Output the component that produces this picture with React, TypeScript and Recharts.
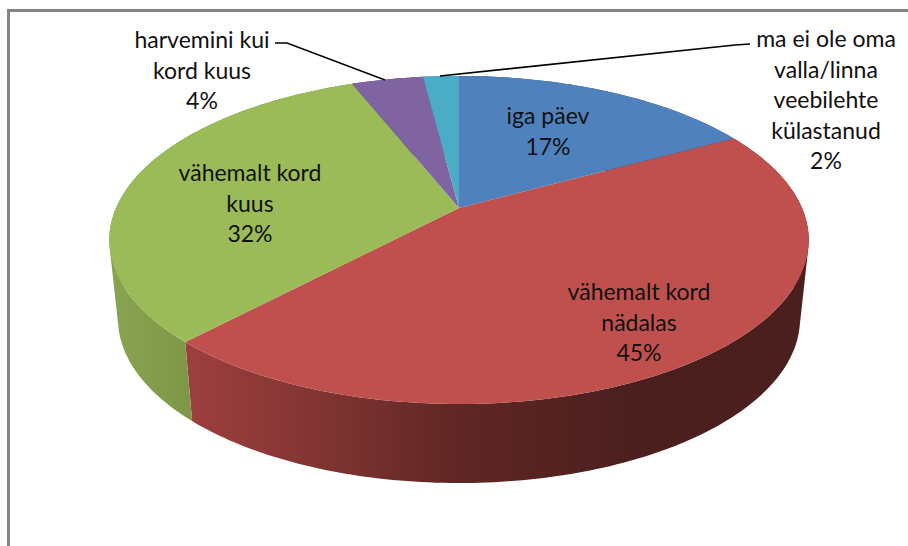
import { PieChart, Pie } from "recharts";

const categories = [
  "iga päev",
  "vähemalt kord nädalas",
  "vähemalt kord kuus",
  "harvemini kui kord kuus",
  "ma ei ole oma valla/linna veebilehte külastanud",
];
const shares = [17, 45, 32, 4, 2];
const colors = ["#4f81bd", "#c0504d", "#9bbb59", "#8064a2", "#4bacc6"];
const wallFills = ["#2f4d71", "url(#redWall)", "url(#greenWall)", "#4d3c61", "#2d6776"];
const labelLines = [
  ["iga päev"],
  ["vähemalt kord", "nädalas"],
  ["vähemalt kord", "kuus"],
  ["harvemini kui", "kord kuus"],
  ["ma ei ole oma", "valla/linna", "veebilehte", "külastanud"],
];

const pieData = categories.map((name, i) => ({
  name,
  value: shares[i],
  fill: colors[i],
  wall: wallFills[i],
}));

// label block centre x / first line centre y, per slice
const labelAnchors = [
  [548, 115],
  [639, 291],
  [250, 172],
  [202, 39],
  [826, 38],
];
const leaders: Record<number, string> = {
  3: "275,43 287,43 385,80",
  4: "750,44 735,45 440,76",
};

const LINE_H = 30.5;
const TILT = 0.195; // perspective of the pie plane
const RX = 3.43;
const RY = 1.578;
const DEPTH = 79;
const SHRINK = 0.975;

// 3D pie: recharts gives the angles, this bends them onto the tilted plane
function project(cx: number, cy: number, r: number, deg: number) {
  const a = (deg * Math.PI) / 180;
  const w = 1 + TILT * Math.sin(a);
  return [cx + (r * RX * Math.cos(a)) / w, cy - (r * RY * Math.sin(a)) / w];
}

function arc(cx: number, cy: number, r: number, start: number, end: number) {
  const n = Math.max(2, Math.ceil(Math.abs(start - end)));
  const pts: number[][] = [];
  for (let i = 0; i <= n; i++) {
    pts.push(project(cx, cy, r, start + ((end - start) * i) / n));
  }
  return pts;
}

function TopFace(props: any) {
  const { cx, cy, outerRadius, startAngle, endAngle, fill } = props;
  const pts = arc(cx, cy, outerRadius, startAngle, endAngle);
  const d = `M${cx},${cy} ` + pts.map((p) => `L${p[0]},${p[1]}`).join(" ") + " Z";
  return <path d={d} fill={fill} />;
}

// one quad per degree, all wound the same way so the silhouette stays filled
function Wall(props: any) {
  const { cx, cy, outerRadius, startAngle, endAngle, payload } = props;
  const top = arc(cx, cy, outerRadius, startAngle, endAngle);
  const low = (p: number[]) => [cx + (p[0] - cx) * SHRINK, p[1] + DEPTH];
  let d = "";
  for (let i = 0; i < top.length - 1; i++) {
    const quad = [top[i], top[i + 1], low(top[i + 1]), low(top[i])];
    let area = 0;
    quad.forEach((p, k) => {
      const q = quad[(k + 1) % 4];
      area += p[0] * q[1] - q[0] * p[1];
    });
    if (area < 0) quad.reverse();
    d += "M" + quad.map((p) => `${p[0]},${p[1]}`).join(" L") + " Z ";
  }
  return <path d={d} fill={payload.wall} />;
}

function SliceLabel(props: any) {
  const { index, value } = props;
  const [x, y] = labelAnchors[index];
  const lines = [...labelLines[index], `${value}%`];
  return (
    <g>
      {leaders[index] && <polyline points={leaders[index]} fill="none" stroke="#000" strokeWidth={1.6} />}
      <text x={x} textAnchor="middle" fontFamily="Lato" fontSize={23} fill="#111">
        {lines.map((line, i) => (
          <tspan key={i} x={x} y={y + i * LINE_H} dominantBaseline="central">
            {line}
          </tspan>
        ))}
      </text>
    </g>
  );
}

export default function App() {
  return (
    <div style={{ position: "fixed", left: 0, top: 0, width: 908, height: 546, overflow: "hidden", background: "#fff" }}>
      <div style={{ position: "absolute", left: 7, top: 9, width: 1000, height: 1000, border: "3px solid #858585" }} />
      <div style={{ position: "absolute", left: 0, top: 0 }}>
        <PieChart width={908} height={546} margin={{ top: 0, right: 0, bottom: 0, left: 0 }}>
          <defs>
            <linearGradient id="redWall" gradientUnits="userSpaceOnUse" x1={190} y1={0} x2={640} y2={0}>
              <stop offset="0%" stopColor="#9c3f3d" />
              <stop offset="25%" stopColor="#853634" />
              <stop offset="60%" stopColor="#5f2624" />
              <stop offset="100%" stopColor="#4a1f1e" />
            </linearGradient>
            <linearGradient id="greenWall" gradientUnits="userSpaceOnUse" x1={115} y1={0} x2={193} y2={0}>
              <stop offset="0%" stopColor="#88a350" />
              <stop offset="100%" stopColor="#7e9747" />
            </linearGradient>
          </defs>
          <Pie
            data={pieData}
            dataKey="value"
            nameKey="name"
            cx={459}
            cy={208}
            outerRadius={100}
            startAngle={90}
            endAngle={-270}
            paddingAngle={0}
            shape={Wall}
            label={false}
            labelLine={false}
            isAnimationActive={false}
          />
          <Pie
            data={pieData}
            dataKey="value"
            nameKey="name"
            cx={459}
            cy={208}
            outerRadius={100}
            startAngle={90}
            endAngle={-270}
            paddingAngle={0}
            shape={TopFace}
            label={SliceLabel}
            labelLine={false}
            isAnimationActive={false}
          />
        </PieChart>
      </div>
    </div>
  );
}
